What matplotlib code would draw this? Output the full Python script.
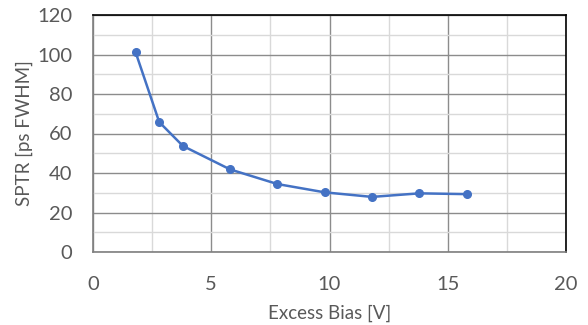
import matplotlib.pyplot as plt
from matplotlib.ticker import MultipleLocator

# data
bias = [1.8, 2.8, 3.8, 5.8, 7.8, 9.8, 11.8, 13.8, 15.8]
sptr = [101.2, 65.8, 53.7, 41.8, 34.4, 30.2, 27.9, 29.7, 29.3]

plt.rcParams['font.family'] = ['Lato', 'DejaVu Sans']

fig = plt.figure(figsize=(5.88, 3.25), dpi=100)
ax = fig.add_axes([93 / 588, 1 - 252 / 325, 473 / 588, 237 / 325])

ax.plot(bias, sptr, color='#4472C4', linewidth=1.8, marker='o', markersize=5.5,
        zorder=3, clip_on=False)

ax.set_xlim(0, 20)
ax.set_ylim(0, 120)
ax.xaxis.set_major_locator(MultipleLocator(5))
ax.xaxis.set_minor_locator(MultipleLocator(2.5))
ax.yaxis.set_major_locator(MultipleLocator(20))
ax.yaxis.set_minor_locator(MultipleLocator(10))

ax.grid(which='major', color='#8c8c8c', linewidth=1.0)
ax.grid(which='minor', color='#d9d9d9', linewidth=1.0)
ax.set_axisbelow(True)

ax.tick_params(which='both', length=0, labelsize=14.5, labelcolor='#595959')
ax.tick_params(axis='x', pad=17)
ax.tick_params(axis='y', pad=15)

for s in ['top', 'right']:
    ax.spines[s].set_color('black')
    ax.spines[s].set_linewidth(1.2)
for s in ['left', 'bottom']:
    ax.spines[s].set_color('#7f7f7f')
    ax.spines[s].set_linewidth(1.2)

ax.set_xlabel('Excess Bias [V]', fontsize=13.5, color='#595959', labelpad=9)
ax.set_ylabel('SPTR [ps FWHM]', fontsize=13.5, color='#595959', labelpad=3)

fig.savefig('out.png', dpi=100)
